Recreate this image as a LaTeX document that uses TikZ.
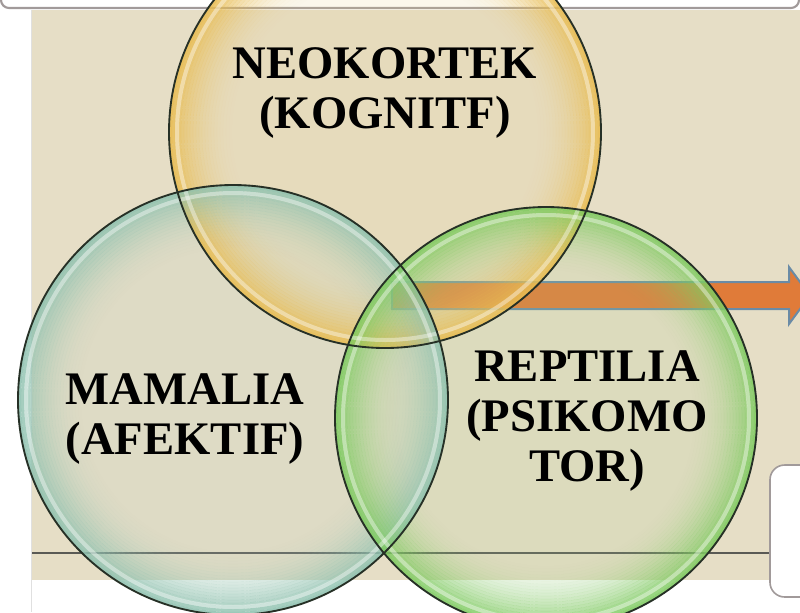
\documentclass[tikz,border=0pt]{standalone}
\usepackage{fontspec}
\setmainfont{Liberation Serif}

\definecolor{panel}{HTML}{E6DEC6}
\definecolor{frameline}{HTML}{A19A9A}
\definecolor{rule}{HTML}{5A5A55}
\definecolor{arrowfill}{HTML}{E07B39}
\definecolor{arrowline}{HTML}{6A8BA6}
\definecolor{neotint}{HTML}{E9D08A}
\definecolor{neorim}{HTML}{E9BC50}
\definecolor{mamtint}{HTML}{B6CFC0}
\definecolor{mamrim}{HTML}{8FC2B0}
\definecolor{reptint}{HTML}{A8D090}
\definecolor{reprim}{HTML}{7ECB60}
\definecolor{bubbleedge}{HTML}{263026}

\tikzset{
  bubbletint/.style={fill=#1, fill opacity=0.16},
  bubbleshine/.style={draw=white, draw opacity=0.4, line width=3pt},
  bubbleline/.style={draw=bubbleedge, line width=1.4pt},
  blockarrow/.style={fill=arrowfill, draw=arrowline, line width=1.5pt, line join=miter},
  lbl/.style={font=\bfseries\fontsize{35}{37.5}\selectfont, align=center,
    inner sep=0pt, text=black},
  sidebox/.style={fill=white, draw=frameline, line width=1.2pt, rounded corners=11pt},
}

% coloured rim of a bubble: thin rings that fade out towards the middle
\newcommand{\bubblerim}[3]{% centre, radius, colour
  \foreach \k in {0,...,21}{
    \pgfmathsetmacro{\ringop}{0.85*(1-\k/22)^2}
    \draw[#3, draw opacity=\ringop, line width=2.35pt] (#1) circle[radius=#2-1.5-3*\k];
  }}

\begin{document}
\begin{tikzpicture}[x=0.75pt, y=-0.75pt]
\useasboundingbox (0,0) rectangle (800,612);
\fill[white] (0,0) rectangle (800,612);

% bottom edge of the box above
\draw[frameline, line width=1.6pt, fill=white, rounded corners=6pt] (1,-30) rectangle (799,8);

% beige slide panel and its rule
\fill[panel] (32,10) rectangle (800,580);
\draw[black!12, line width=1.2pt] (31.5,10) -- (31.5,612);
\coordinate (ruleL) at (32,553);
\coordinate (ruleR) at (770,553);
\draw[rule, line width=0.9pt] (ruleL) -- (ruleR);

% block arrow
\coordinate (arrowtail) at (392,295.5);
\draw[blockarrow] (392,282) -- (789,282) -- (789,267) -- (810,295.5)
  -- (789,324) -- (789,309) -- (392,309) -- cycle;

% box at the lower right
\draw[sidebox] (770,465) rectangle (830,597);

% circle centres
\coordinate (neoc) at (385,132);
\coordinate (mamc) at (233,400);
\coordinate (repc) at (546,418);

% translucent bubbles
\path[bubbletint=neotint] (neoc) circle[radius=216];
\path[bubbletint=mamtint] (mamc) circle[radius=215];
\path[bubbletint=reptint] (repc) circle[radius=211];

\bubblerim{neoc}{216}{neorim}
\bubblerim{mamc}{215}{mamrim}
\bubblerim{repc}{211}{reprim}

\draw[bubbleshine] (neoc) circle[radius=208];
\draw[bubbleshine] (mamc) circle[radius=207];
\draw[bubbleshine] (repc) circle[radius=203];

\draw[bubbleline] (neoc) circle[radius=216];
\draw[bubbleline] (mamc) circle[radius=215];
\draw[bubbleline] (repc) circle[radius=211];

% labels
\node[lbl] (neo) at (385,93) {NEOKORTEK\\(KOGNITF)};
\node[lbl] (mam) at (185,419) {MAMALIA\\(AFEKTIF)};
\node[lbl] (rep) at (587,421) {REPTILIA\\(PSIKOMO\\TOR)};
\end{tikzpicture}
\end{document}
